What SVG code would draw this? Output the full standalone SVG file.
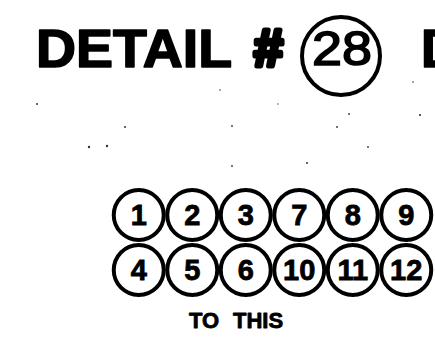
<svg xmlns="http://www.w3.org/2000/svg" width="435" height="340" viewBox="0 0 435 340">
<style>
.bg{fill:#fff}
.t{font-family:"Liberation Sans",Arial,sans-serif;font-weight:bold;fill:#000;stroke:#000;stroke-linejoin:round}
.ring{fill:none;stroke:#000;stroke-width:4}
.num{font-family:"Liberation Sans",Arial,sans-serif;font-weight:bold;font-size:29px;text-anchor:middle;fill:#000;stroke:#000;stroke-width:0.8}
.dot{fill:#333}
</style>
<rect class="bg" x="0" y="0" width="435" height="340"/>
<g id="title">
  <text class="t" x="36" y="67" font-size="53" stroke-width="1.6" textLength="196" lengthAdjust="spacingAndGlyphs">DETAIL</text>
  <text class="t" x="268.5" y="66" font-size="52" text-anchor="middle" stroke-width="5">#</text>
  <text class="t" x="421" y="67" font-size="53" stroke-width="1.6">D</text>
</g>
<g id="detail-28">
  <circle class="ring" cx="341" cy="56" r="39"/>
  <text x="342" y="65" font-family="Liberation Sans,Arial,sans-serif" font-size="49" text-anchor="middle" stroke="#000" stroke-width="1.6" textLength="60" lengthAdjust="spacingAndGlyphs">28</text>
</g>
<g id="connector-grid">
  <g id="pin-1"><circle class="ring" cx="138.75" cy="215" r="25"/><text class="num" x="138.75" y="225">1</text></g>
  <g id="pin-2"><circle class="ring" cx="192.25" cy="215" r="25"/><text class="num" x="192.25" y="225">2</text></g>
  <g id="pin-3"><circle class="ring" cx="245.75" cy="215" r="25"/><text class="num" x="245.75" y="225">3</text></g>
  <g id="pin-7"><circle class="ring" cx="299.25" cy="215" r="25"/><text class="num" x="299.25" y="225">7</text></g>
  <g id="pin-8"><circle class="ring" cx="352.75" cy="215" r="25"/><text class="num" x="352.75" y="225">8</text></g>
  <g id="pin-9"><circle class="ring" cx="406.25" cy="215" r="25"/><text class="num" x="406.25" y="225">9</text></g>
  <g id="pin-4"><circle class="ring" cx="138.75" cy="270" r="25"/><text class="num" x="138.75" y="280">4</text></g>
  <g id="pin-5"><circle class="ring" cx="192.25" cy="270" r="25"/><text class="num" x="192.25" y="280">5</text></g>
  <g id="pin-6"><circle class="ring" cx="245.75" cy="270" r="25"/><text class="num" x="245.75" y="280">6</text></g>
  <g id="pin-10"><circle class="ring" cx="299.25" cy="270" r="25"/><text class="num" x="299.25" y="280">10</text></g>
  <g id="pin-11"><circle class="ring" cx="352.75" cy="270" r="25"/><text class="num" x="352.75" y="280">11</text></g>
  <g id="pin-12"><circle class="ring" cx="406.25" cy="270" r="25"/><text class="num" x="406.25" y="280">12</text></g>
</g>
<g id="caption">
  <text class="t" x="189" y="328" font-size="22" stroke-width="0.8">TO</text>
  <text class="t" x="233" y="328" font-size="22" stroke-width="0.8">THIS</text>
</g>
<g id="specks">
  <circle class="dot" cx="37" cy="104" r="1"/>
  <circle class="dot" cx="125" cy="127" r="1"/>
  <circle class="dot" cx="89" cy="147" r="1.2"/>
  <circle class="dot" cx="107" cy="146" r="1.2"/>
  <circle class="dot" cx="232" cy="126" r="0.9"/>
  <circle class="dot" cx="232" cy="166" r="0.9"/>
  <circle class="dot" cx="278" cy="104" r="0.7"/>
  <circle class="dot" cx="349" cy="114" r="0.9"/>
  <circle class="dot" cx="337" cy="127" r="0.9"/>
  <circle class="dot" cx="368" cy="147" r="0.9"/>
  <circle class="dot" cx="307" cy="163" r="1"/>
  <circle class="dot" cx="420" cy="115" r="1.1"/>
  <circle class="dot" cx="220" cy="90" r="0.8"/>
  <circle class="dot" cx="413" cy="82" r="0.8"/>
</g>
</svg>
